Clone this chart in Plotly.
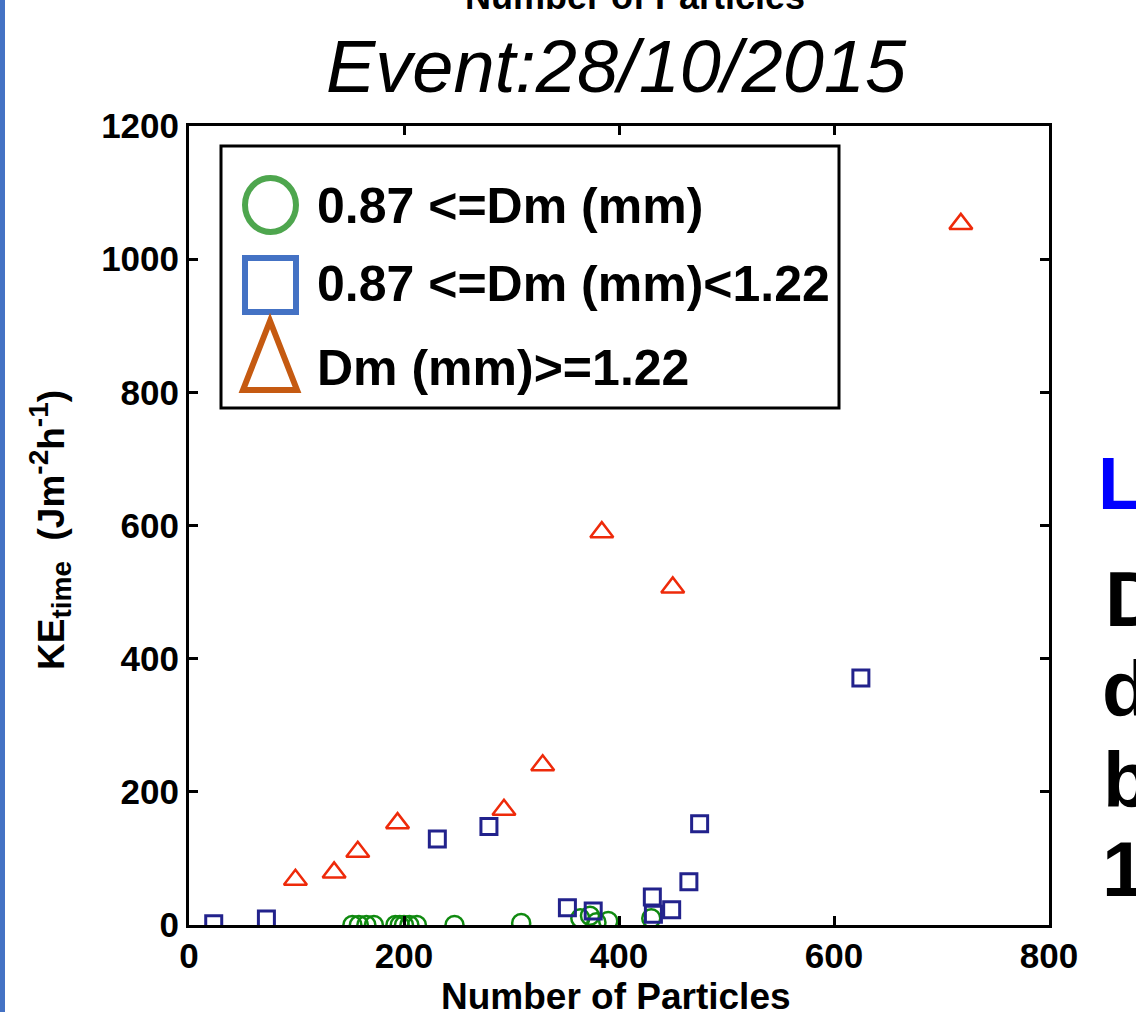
import plotly.graph_objects as go

# ---------------- data ----------------
small_x = [152, 158, 165, 172, 192, 196, 200, 205, 212, 247, 309, 364, 373, 379, 390, 430]
small_y = [0, 0, 0, 0, 0, 0, 0, 0, 0, 0, 3, 10, 14, 4, 6, 10]

mid_x = [23, 72, 231, 279, 352, 376, 431, 432, 449, 465, 475, 625]
mid_y = [2, 9, 129, 148, 26, 21, 42, 16, 23, 65, 152, 371]

large_x = [99, 135, 157, 194, 293, 329, 384, 450, 718]
large_y = [68, 79, 110, 153, 173, 240, 590, 507, 1053]

x_ticks = [0, 200, 400, 600, 800]
y_ticks = [0, 200, 400, 600, 800, 1000, 1200]

legend_labels = ["0.87 <=Dm (mm)", "0.87 <=Dm (mm)<1.22", "Dm (mm)>=1.22"]

# ---------------- geometry helpers ----------------
W, H = 1136, 1012
L, R, T, B = 189, 1049, 126, 925


def px(x):
    return (x - L) / (R - L)


def py(y):
    return (B - y) / (B - T)


FONT = "Liberation Sans, Arial, sans-serif"

fig = go.Figure()
fig.add_trace(go.Scatter(
    x=small_x, y=small_y, mode="markers", name=legend_labels[0],
    marker=dict(symbol="circle-open", size=18, color="#108a10",
                line=dict(width=2.5, color="#108a10")),
    showlegend=False))
fig.add_trace(go.Scatter(
    x=mid_x, y=mid_y, mode="markers", name=legend_labels[1],
    marker=dict(symbol="square-open", size=16, color="#22228c",
                line=dict(width=3, color="#22228c")),
    showlegend=False))
fig.add_trace(go.Scatter(
    x=large_x, y=large_y, mode="markers", name=legend_labels[2],
    marker=dict(symbol="triangle-up-open", size=20, color="#ee2a0a",
                line=dict(width=2.5, color="#ee2a0a")),
    showlegend=False))

axis_common = dict(
    showline=True, linecolor="black", linewidth=3, mirror="ticks",
    ticks="inside", ticklen=9, tickwidth=2.5, tickcolor="black",
    showgrid=False, zeroline=False,
    tickfont=dict(family=FONT, size=35, color="black", weight="bold"),
)

fig.update_xaxes(range=[0, 800], tickvals=x_ticks, ticklabelstandoff=-2, **axis_common)
fig.update_yaxes(range=[0, 1200], tickvals=y_ticks, ticklabelstandoff=0, **axis_common)

shapes = []
# slide's blue left border
shapes.append(dict(type="rect", xref="paper", yref="paper",
                   x0=px(0), x1=px(5), y0=py(H), y1=py(0),
                   fillcolor="#4472c4", line=dict(width=0), layer="above"))
# legend box
shapes.append(dict(type="rect", xref="paper", yref="paper",
                   x0=px(221), x1=px(839), y0=py(408), y1=py(146),
                   fillcolor="white", line=dict(color="black", width=3), layer="above"))
# legend symbols
shapes.append(dict(type="circle", xref="paper", yref="paper",
                   x0=px(245), x1=px(296), y0=py(232), y1=py(178),
                   line=dict(color="#4ea64e", width=6), layer="above"))
shapes.append(dict(type="rect", xref="paper", yref="paper",
                   x0=px(245), x1=px(296), y0=py(312), y1=py(258),
                   line=dict(color="#4472c4", width=6), layer="above"))
shapes.append(dict(type="path", xref="paper", yref="paper",
                   path=f"M {px(270)} {py(321)} L {px(243)} {py(390)} L {px(297)} {py(390)} Z",
                   line=dict(color="#c55a11", width=6), layer="above"))

annotations = []


def ann(text, x, y, size, xanchor="center", color="black", weight="bold", angle=0, style="normal"):
    annotations.append(dict(
        text=text, xref="paper", yref="paper", x=px(x), y=py(y),
        xanchor=xanchor, yanchor="middle", showarrow=False, textangle=angle,
        font=dict(family=FONT, size=size, color=color, weight=weight, style=style)))


# legend labels
ann(legend_labels[0], 315, 206, 50, xanchor="left")
ann(legend_labels[1], 315, 284, 50, xanchor="left")
ann(legend_labels[2], 315, 368, 50, xanchor="left")

# titles
ann("Number of Particles", 635, -4, 36)
ann("Event:28/10/2015", 616, 66, 74, weight="normal", style="italic")
ann("Number of Particles", 616, 996, 37)
ann("KE<sub><span style='font-size:28px'>time</span></sub>\u00a0 (Jm<sup><span style='font-size:28px'>-2</span></sup>"
    "h<sup><span style='font-size:28px'>-1</span></sup>)", 50, 530, 37, angle=-90)

# slide text cut at the right edge
ann("L", 1096, 483, 74, xanchor="left", color="#0000ff")
ann("D", 1103, 599, 78, xanchor="left")
ann("d", 1100, 689, 78, xanchor="left")
ann("b", 1101, 780, 78, xanchor="left")
ann("1", 1100, 869, 78, xanchor="left")

fig.update_layout(
    width=W, height=H,
    margin=dict(l=L, r=W - R, t=T, b=H - B, pad=0),
    paper_bgcolor="white", plot_bgcolor="white",
    shapes=shapes, annotations=annotations,
    showlegend=False,
    font=dict(family=FONT),
)

fig.write_html("out.html", config={"displayModeBar": False},
               post_script="document.body.style.margin='0';document.body.style.overflow='hidden';")
